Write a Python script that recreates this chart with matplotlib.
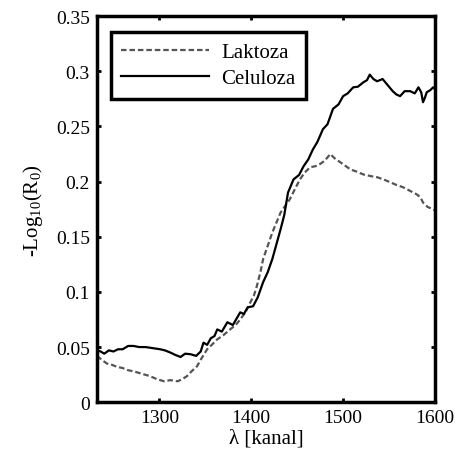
import matplotlib.pyplot as plt

plt.rcParams['font.family'] = ['Liberation Serif', 'DejaVu Serif']
plt.rcParams['mathtext.fontset'] = 'custom'
plt.rcParams['mathtext.rm'] = 'Liberation Serif'

# Celuloza (solid)
cel_x = [1232, 1236, 1240, 1245, 1250, 1255, 1260, 1266, 1272, 1278, 1285, 1293, 1301, 1306,
         1312, 1317, 1323, 1328, 1334, 1340, 1345, 1348, 1352, 1356, 1360, 1363, 1368, 1374,
         1380, 1388, 1392, 1396, 1402, 1407, 1413, 1418, 1423, 1428, 1432, 1436, 1440, 1446,
         1452, 1457, 1462, 1467, 1472, 1478, 1483, 1489, 1495, 1500, 1505, 1511, 1516, 1522,
         1526, 1529, 1533, 1537, 1543, 1548, 1554, 1558, 1562, 1567, 1573, 1578, 1582, 1585,
         1587, 1589, 1591, 1595, 1598, 1600]
cel_y = [0.047, 0.046, 0.044, 0.047, 0.046, 0.048, 0.048, 0.051, 0.051, 0.050, 0.050, 0.049,
         0.048, 0.047, 0.045, 0.043, 0.041, 0.044, 0.0435, 0.042, 0.046, 0.054, 0.052, 0.058,
         0.060, 0.066, 0.064, 0.0725, 0.070, 0.0815, 0.080, 0.086, 0.087, 0.095, 0.109, 0.118,
         0.130, 0.145, 0.157, 0.170, 0.190, 0.202, 0.206, 0.214, 0.220, 0.229, 0.236, 0.2475,
         0.252, 0.266, 0.270, 0.2775, 0.280, 0.2855, 0.286, 0.290, 0.292, 0.297, 0.293, 0.291,
         0.293, 0.288, 0.282, 0.279, 0.2775, 0.282, 0.282, 0.280, 0.2855, 0.281, 0.272, 0.276,
         0.281, 0.283, 0.2855, 0.284]

# Laktoza (dashed)
lak_x = [1232, 1238, 1243, 1248, 1254, 1260, 1266, 1272, 1280, 1290, 1297, 1305, 1312, 1320,
         1325, 1330, 1335, 1341, 1346, 1352, 1357, 1363, 1370, 1377, 1383, 1388, 1394, 1399,
         1403, 1406, 1410, 1413, 1418, 1423, 1428, 1432, 1437, 1442, 1448, 1453, 1458, 1464,
         1470, 1475, 1480, 1486, 1491, 1497, 1503, 1508, 1515, 1522, 1530, 1537, 1544, 1551,
         1558, 1565, 1572, 1580, 1584, 1587, 1592, 1598, 1600]
lak_y = [0.042, 0.038, 0.035, 0.034, 0.032, 0.031, 0.029, 0.028, 0.026, 0.0236, 0.021, 0.019,
         0.020, 0.019, 0.021, 0.0236, 0.028, 0.0326, 0.040, 0.048, 0.052, 0.057, 0.061, 0.066,
         0.070, 0.075, 0.082, 0.0905, 0.097, 0.105, 0.118, 0.130, 0.142, 0.154, 0.164, 0.172,
         0.178, 0.184, 0.194, 0.202, 0.208, 0.213, 0.214, 0.216, 0.219, 0.225, 0.221, 0.2175,
         0.214, 0.211, 0.209, 0.2065, 0.205, 0.204, 0.202, 0.1995, 0.197, 0.195, 0.192, 0.1885,
         0.186, 0.181, 0.177, 0.175, 0.174]

fig = plt.figure(figsize=(4.55, 4.64), dpi=100)
ax = fig.add_axes([0.213, 0.131, 0.743, 0.832])
ax.plot(lak_x, lak_y, '--', color='#555555', lw=1.6, dashes=(2.5, 1.3), label='Laktoza')
ax.plot(cel_x, cel_y, '-', color='black', lw=1.6, label='Celuloza')
ax.set_xlim(1232, 1600)
ax.set_ylim(0, 0.35)
ax.set_xticks([1300, 1400, 1500, 1600])
ax.set_yticks([0, 0.05, 0.1, 0.15, 0.2, 0.25, 0.3, 0.35])
ax.set_yticklabels(['0', '0.05', '0.1', '0.15', '0.2', '0.25', '0.3', '0.35'])
ax.tick_params(direction='in', top=True, right=True, length=3, width=2, labelsize=14, pad=5)
for s in ax.spines.values():
    s.set_linewidth(2.5)
ax.set_xlabel('λ [kanal]', fontsize=15, labelpad=2)
ax.set_ylabel(r'-Log$_{10}$(R$_0$)', fontsize=15, labelpad=8)
leg = ax.legend(loc='upper left', fontsize=15, fancybox=False, framealpha=1,
                edgecolor='black', handlelength=4.2, borderpad=0.5, handletextpad=0.6,
                labelspacing=0.3, bbox_to_anchor=(0.01, 0.985))
leg.get_frame().set_linewidth(2.5)
fig.savefig('out.png', dpi=100)
